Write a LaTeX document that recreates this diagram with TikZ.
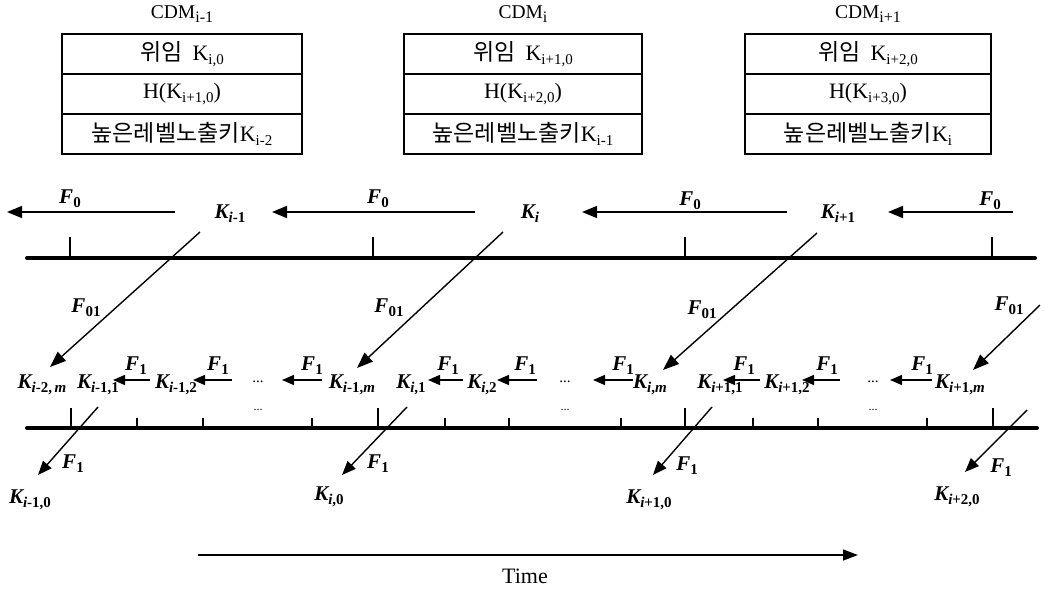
\documentclass[tikz,border=0pt]{standalone}
\usepackage{fontspec}
\setmainfont{Liberation Serif}
\newfontfamily\kr{Noto Sans CJK KR}
\usetikzlibrary{arrows.meta}
% subscripts: upright ones in the boxes and titles, bold ones for the key labels
\newcommand\bsub[1]{\raisebox{-3.5pt}{\fontsize{15}{15}\selectfont #1}}
\newcommand\tsub[1]{\raisebox{-4pt}{\fontsize{16}{16}\selectfont #1}}
\newcommand\lsub[1]{\raisebox{-4pt}{\fontsize{15}{15}\selectfont\bfseries #1}}
\newcommand\lab[2]{{\bfseries\itshape #1}\lsub{#2}}
\newcommand\vi{\textit{i}}
\newcommand\vm{\textit{m}}
\newcommand\hg[1]{{\kr\fontsize{23}{24}\selectfont #1}}
\tikzset{
  title/.style={anchor=base, inner sep=0pt, font=\fontsize{19.5}{20}\selectfont},
  cell/.style={draw, line width=1.3pt, inner sep=0pt, minimum height=40pt,
               font=\fontsize{22}{23}\selectfont},
  lbl/.style={anchor=base, inner sep=0pt, font=\fontsize{21}{22}\selectfont},
  dotl/.style={anchor=base, inner sep=0pt, font=\fontsize{15}{15}\selectfont},
  axdot/.style={anchor=base, inner sep=0pt, font=\fontsize{12}{12}\selectfont},
  axis/.style={line width=4pt, line cap=round},
  tickl/.style={line width=1.3pt},
  fzero/.style={line width=1.4pt, -{Triangle[length=15pt,width=12pt]}},
  fzo/.style={line width=1.4pt, -{Triangle[length=16pt,width=12pt]}},
  fone/.style={line width=1.4pt, -{Triangle[length=12pt,width=10pt]}},
  fdown/.style={line width=1.4pt, -{Triangle[length=14pt,width=11pt]}},
}
\begin{document}
\begin{tikzpicture}[x=1pt,y=-1pt]
\useasboundingbox (0,0) rectangle (1045,589);

% ---- CDM boxes ----
\node[title] (t1) at (182,18) {CDM\tsub{i-1}};
\node[cell, minimum width=240pt] (b1a) at (182,54) {\hg{위임}\hspace{10pt}K\bsub{i,0}};
\node[cell, minimum width=240pt] (b1b) at (182,94) {H(K\bsub{i+1,0})};
\node[cell, minimum width=240pt] (b1c) at (182,134) {\hg{높은레벨노출키}K\bsub{i-2}};

\node[title] (t2) at (523,18) {CDM\tsub{i}};
\node[cell, minimum width=238pt] (b2a) at (523,54) {\hg{위임}\hspace{10pt}K\bsub{i+1,0}};
\node[cell, minimum width=238pt] (b2b) at (523,94) {H(K\bsub{i+2,0})};
\node[cell, minimum width=238pt] (b2c) at (523,134) {\hg{높은레벨노출키}K\bsub{i-1}};

\node[title] (t3) at (868,18) {CDM\tsub{i+1}};
\node[cell, minimum width=246pt] (b3a) at (868,54) {\hg{위임}\hspace{10pt}K\bsub{i+2,0}};
\node[cell, minimum width=246pt] (b3b) at (868,94) {H(K\bsub{i+3,0})};
\node[cell, minimum width=246pt] (b3c) at (868,134) {\hg{높은레벨노출키}K\bsub{i}};

% ---- upper time line ----
\draw[axis] (27,258) -- (1035,258);
\foreach \x in {70,373,685,992} \draw[tickl] (\x,237) -- (\x,258);

\node[lbl] (Kim1) at (230,218) {\lab{K}{\vi-1}};
\node[lbl] (Ki)   at (530,218) {\lab{K}{\vi}};
\node[lbl] (Kp1)  at (838,218) {\lab{K}{\vi+1}};
\coordinate (w0) at (7,212);
\coordinate (e0) at (1013,212);

\draw[fzero] ([shift={(-55,-6)}]Kim1.base) -- (w0);
\draw[fzero] ([shift={(-55,-6)}]Ki.base) -- ([shift={(42,-6)}]Kim1.base);
\draw[fzero] ([shift={(-51,-6)}]Kp1.base) -- ([shift={(52,-6)}]Ki.base);
\draw[fzero] (e0) -- ([shift={(50,-6)}]Kp1.base);

\node[lbl] (fa) at (70,203)  {\lab{F}{0}};
\node[lbl] (fb) at (378,203) {\lab{F}{0}};
\node[lbl] (fc) at (690,205) {\lab{F}{0}};
\node[lbl] (fd) at (990,205) {\lab{F}{0}};

% ---- lower time line ----
\draw[axis] (27,428) -- (1037,428);
\foreach \x in {71,378,685,993} \draw[tickl] (\x,408) -- (\x,428);
\foreach \x in {137,203,312,445,509,621,753,818,927} \draw[tickl] (\x,418) -- (\x,428);
\foreach \x [count=\n] in {258,565,873} \node[axdot] (ad\n) at (\x,410) {...};

\node[lbl] (Km2m) at (42,388)  {\lab{K}{\vi-2,\,\vm}};
\node[lbl] (Km11) at (98,388)  {\lab{K}{\vi-1,1}};
\node[lbl] (Km12) at (176,388) {\lab{K}{\vi-1,2}};
\node[dotl] (dA)  at (258,382) {...};
\node[lbl] (Km1m) at (352,388) {\lab{K}{\vi-1,\vm}};
\node[lbl] (Ki1)  at (411,388) {\lab{K}{\vi,1}};
\node[lbl] (Ki2)  at (482,388) {\lab{K}{\vi,2}};
\node[dotl] (dB)  at (565,382) {...};
\node[lbl] (Kim)  at (650,388) {\lab{K}{\vi,\vm}};
\node[lbl] (Kp11) at (720,388) {\lab{K}{\vi+1,1}};
\node[lbl] (Kp12) at (787,388) {\lab{K}{\vi+1,2}};
\node[dotl] (dC)  at (873,382) {...};
\node[lbl] (Kp1m) at (960,388) {\lab{K}{\vi+1,\vm}};

% one-way steps F_1 inside each period
\draw[fone] ([shift={(-26,-8)}]Km12.base) -- ([shift={(15,-8)}]Km11.base);
\draw[fone] ([shift={(-26,-2)}]dA.base)   -- ([shift={(17,-8)}]Km12.base);
\draw[fone] ([shift={(-30,-8)}]Km1m.base) -- ([shift={(24,-2)}]dA.base);
\draw[fone] ([shift={(-19,-8)}]Ki2.base)  -- ([shift={(17,-8)}]Ki1.base);
\draw[fone] ([shift={(-28,-2)}]dB.base)   -- ([shift={(15,-8)}]Ki2.base);
\draw[fone] ([shift={(-17,-8)}]Kim.base)  -- ([shift={(28,-2)}]dB.base);
\draw[fone] ([shift={(-27,-8)}]Kp12.base) -- ([shift={(3,-8)}]Kp11.base);
\draw[fone] ([shift={(-33,-2)}]dC.base)   -- ([shift={(15,-8)}]Kp12.base);
\draw[fone] ([shift={(-28,-8)}]Kp1m.base) -- ([shift={(17,-2)}]dC.base);

\foreach \x [count=\n] in {136,218,312,448,525,623,744,827,922}
  \node[lbl] (g\n) at (\x,370) {\lab{F}{1}};

% F_01 links from K_i to the last key of the previous period
\coordinate (e1) at (1040,305);
\draw[fzo] ([shift={(-30,14)}]Kim1.base) -- ([shift={(8,-21)}]Km2m.base);
\draw[fzo] ([shift={(-27,14)}]Ki.base)   -- ([shift={(5,-20)}]Km1m.base);
\draw[fzo] ([shift={(-21,15)}]Kp1.base)  -- ([shift={(13,-18)}]Kim.base);
\draw[fzo] (e1) -- ([shift={(13,-18)}]Kp1m.base);

\node[lbl] (h1) at (86,312)   {\lab{F}{01}};
\node[lbl] (h2) at (389,312)  {\lab{F}{01}};
\node[lbl] (h3) at (702,314)  {\lab{F}{01}};
\node[lbl] (h4) at (1009,310) {\lab{F}{01}};

% ---- keys K_{x,0} below the line ----
\node[lbl] (Km10) at (30,503)  {\lab{K}{\vi-1,0}};
\node[lbl] (Ki0)  at (329,500) {\lab{K}{\vi,0}};
\node[lbl] (Kp10) at (649,503) {\lab{K}{\vi+1,0}};
\node[lbl] (Kp20) at (957,500) {\lab{K}{\vi+2,0}};

\coordinate (e2) at (1027,410);
\draw[fdown] ([shift={(0,19)}]Km11.base)  -- ([shift={(8,-28)}]Km10.base);
\draw[fdown] ([shift={(-4,19)}]Ki1.base)  -- ([shift={(13,-25)}]Ki0.base);
\draw[fdown] ([shift={(-8,19)}]Kp11.base) -- ([shift={(4,-28)}]Kp10.base);
\draw[fdown] (e2) -- ([shift={(8,-28)}]Kp20.base);

\node[lbl] (k1) at (73,468)   {\lab{F}{1}};
\node[lbl] (k2) at (378,468)  {\lab{F}{1}};
\node[lbl] (k3) at (687,470)  {\lab{F}{1}};
\node[lbl] (k4) at (1001,472) {\lab{F}{1}};

% ---- time axis ----
\coordinate (ts) at (198,555);
\coordinate (te) at (858,555);
\draw[line width=1.4pt, -{Triangle[length=15pt,width=11pt]}] (ts) -- (te);
\node[anchor=base, inner sep=0pt, font=\fontsize{22}{22}\selectfont] (tm) at (525,583) {Time};
\end{tikzpicture}
\end{document}
